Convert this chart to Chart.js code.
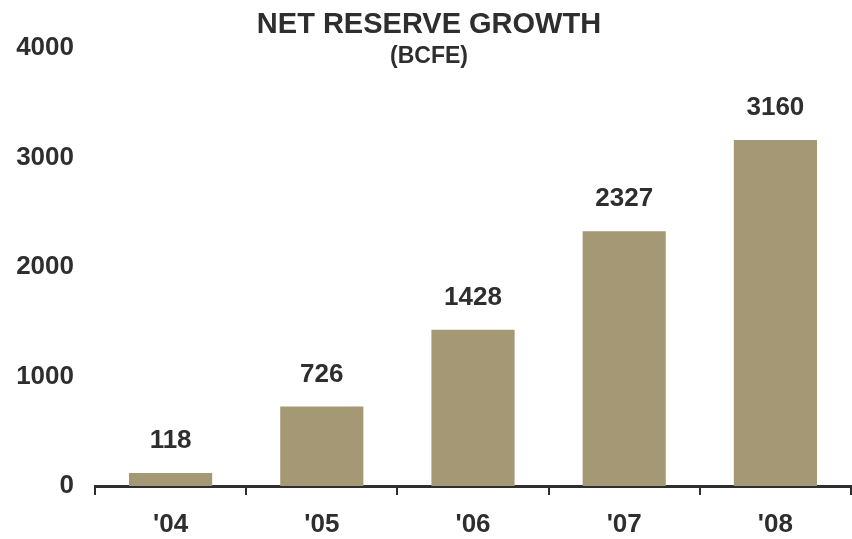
<!DOCTYPE html>
<html>
<head>
<meta charset="utf-8">
<script src="https://cdn.jsdelivr.net/npm/chart.js@4/dist/chart.umd.min.js"></script>
<style>
  html, body { margin: 0; padding: 0; background: #fff; }
  #wrap { width: 852px; height: 539px; }
</style>
</head>
<body>
<div id="wrap"><canvas id="myChart" width="852" height="539"></canvas></div>
<script>
// chart data
var years = ["'04", "'05", "'06", "'07", "'08"];
var reserveGrowth = [118, 726, 1428, 2327, 3160];
var yTicks = [0, 1000, 2000, 3000, 4000];

var titleText = "NET RESERVE GROWTH";
var subtitleText = "(BCFE)";

var textColor = "#2e2e2e";
var barColor = "#a59874";
var fontFamily = "'Liberation Sans', Arial, sans-serif";

// draws the title + subtitle on top of the plot (they overlap the axis area in the original)
var titlePlugin = {
    id: 'topTitle',
    afterDraw: function(chart) {
        var ctx = chart.ctx;
        var cx = chart.width / 2 + 3;
        ctx.save();
        ctx.fillStyle = textColor;
        ctx.textAlign = 'center';
        ctx.textBaseline = 'middle';
        ctx.font = "bold 29px " + fontFamily;
        ctx.fillText(titleText, cx, 25);
        ctx.font = "bold 23px " + fontFamily;
        ctx.fillText(subtitleText, cx, 57);
        ctx.restore();
    }
};

// value labels above each bar
var valueLabels = {
    id: 'valueLabels',
    afterDatasetsDraw: function(chart) {
        var ctx = chart.ctx;
        var meta = chart.getDatasetMeta(0);
        ctx.save();
        ctx.fillStyle = textColor;
        ctx.textAlign = 'center';
        ctx.textBaseline = 'alphabetic';
        ctx.font = "bold 26px " + fontFamily;
        meta.data.forEach(function(bar, i) {
            ctx.fillText(String(reserveGrowth[i]), bar.x, bar.y - 25);
        });
        ctx.restore();
    }
};

var ctx = document.getElementById("myChart").getContext("2d");

var myChart = new Chart(ctx, {
    type: 'bar',
    data: {
        labels: years,
        datasets: [{
            label: "Net reserve growth",
            data: reserveGrowth,
            backgroundColor: barColor,
            borderWidth: 0,
            barPercentage: 0.55,
            categoryPercentage: 1.0
        }]
    },
    options: {
        responsive: false,
        animation: false,
        layout: {
            padding: { top: 48, left: 14, right: 1, bottom: 0 }
        },
        plugins: {
            legend: { display: false },
            tooltip: { enabled: false }
        },
        scales: {
            x: {
                offset: true,
                afterFit: function(axis) { axis.height = 53; },
                grid: {
                    offset: true,
                    drawOnChartArea: false,
                    drawTicks: true,
                    tickLength: 9,
                    color: textColor,
                    lineWidth: 2
                },
                border: { display: true, color: textColor, width: 3 },
                ticks: {
                    color: textColor,
                    padding: 14,
                    font: { family: fontFamily, size: 26, weight: 'bold' }
                }
            },
            y: {
                min: 0,
                max: 4000,
                afterBuildTicks: function(axis) {
                    axis.ticks = yTicks.map(function(v) { return { value: v }; });
                },
                afterFit: function(axis) { axis.width = 81; },
                grid: { display: false, drawTicks: false },
                border: { display: false },
                ticks: {
                    color: textColor,
                    padding: 21,
                    callback: function(v) { return String(v); },
                    font: { family: fontFamily, size: 26, weight: 'bold' }
                }
            }
        }
    },
    plugins: [titlePlugin, valueLabels]
});
</script>
</body>
</html>
